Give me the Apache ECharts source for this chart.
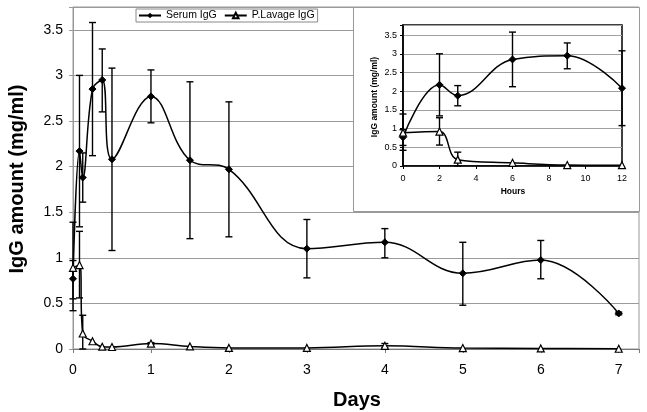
<!DOCTYPE html>
<html>
<head>
<meta charset="utf-8">
<script src="https://cdn.jsdelivr.net/npm/echarts@6/dist/echarts.min.js"></script>
<style>
html,body{margin:0;padding:0;background:#fff;}
#c{width:647px;height:412px;}
</style>
</head>
<body>
<div id="c"></div>
<script>
// ---- data ----
const days = [0, 0.0833, 0.125, 0.25, 0.375, 0.5, 1, 1.5, 2, 3, 4, 5, 6, 7];
const hours = [0, 2, 3, 6, 9, 12];
const serum = [0.77, 2.17, 1.88, 2.85, 2.95, 2.08, 2.77, 2.07, 1.97, 1.10, 1.17, 0.83, 0.975, 0.39];
const serumLow = [0.55, 1.34, 1.61, 2.12, 2.60, 1.08, 2.48, 1.21, 1.23, 0.78, 1.00, 0.48, 0.77, 0.375];
const serumHigh = [0.97, 3.00, 2.15, 3.58, 3.29, 3.08, 3.06, 2.93, 2.71, 1.42, 1.32, 1.17, 1.19, 0.405];
const lavage = [0.89, 0.92, 0.17, 0.085, 0.025, 0.022, 0.06, 0.028, 0.012, 0.012, 0.035, 0.01, 0.006, 0.003];
const lavageLow = [0.42, 0.56, 0.0, null, null, null, 0.05, null, null, null, 0.015, null, null, null];
const lavageHigh = [1.39, 1.29, 0.37, null, null, null, 0.07, null, null, null, 0.06, null, null, null];
const inset = 6; // first six points are the hourly samples
const mainYTicks = ['0', '0.5', '1', '1.5', '2', '2.5', '3', '3.5'];

function pairs(xs, ys) { return xs.map((x, i) => [x, ys[i]]); }
function errs(xs, lo, hi) {
  const out = [];
  xs.forEach((x, i) => { if (lo[i] != null && hi[i] != null) out.push([x, lo[i], hi[i]]); });
  return out;
}
function errRender(cap) {
  return function (params, api) {
    const x = api.value(0);
    const p0 = api.coord([x, api.value(1)]);
    const p1 = api.coord([x, api.value(2)]);
    const st = { stroke: '#000', lineWidth: 1.4 };
    return {
      type: 'group',
      children: [
        { type: 'line', shape: { x1: p0[0], y1: p0[1], x2: p1[0], y2: p1[1] }, style: st },
        { type: 'line', shape: { x1: p0[0] - cap, y1: p0[1], x2: p0[0] + cap, y2: p0[1] }, style: st },
        { type: 'line', shape: { x1: p1[0] - cap, y1: p1[1], x2: p1[0] + cap, y2: p1[1] }, style: st }
      ]
    };
  };
}
function halfFmt(v) {
  const s = String(Math.round(v * 100) / 100);
  return mainYTicks.indexOf(s) >= 0 ? s : '';
}

const F = '"Liberation Sans", Arial, sans-serif';
const SM = 0.4;
const chart = echarts.init(document.getElementById('c'), null, { renderer: 'canvas' });
chart.setOption({
  animation: false,
  backgroundColor: '#fff',
  legend: {
    left: 136, top: 9,
    padding: [1, 3, 1, 2],
    itemGap: 7, itemWidth: 22, itemHeight: 7,
    backgroundColor: '#fff', borderColor: '#888', borderWidth: 1,
    textStyle: { fontFamily: F, fontSize: 10.5, color: '#000' },
    data: ['Serum IgG', 'P.Lavage IgG']
  },
  grid: [
    { left: 73, top: 7, width: 566, height: 342, show: true, borderColor: '#999', borderWidth: 1, backgroundColor: 'transparent' },
    { left: 403, top: 25, width: 219, height: 141, show: true, borderColor: '#000', borderWidth: 1.5, backgroundColor: '#fff', z: 6 }
  ],
  xAxis: [
    {
      gridIndex: 0, type: 'value', min: 0, max: 7.26, interval: 1,
      axisLine: { lineStyle: { color: '#777', width: 1 } },
      axisTick: { show: true, length: 4, lineStyle: { color: '#777' } },
      splitLine: { show: false },
      axisLabel: { margin: 14, fontFamily: F, fontSize: 14, color: '#000',
        formatter: v => (Math.abs(v - Math.round(v)) < 1e-9 ? String(Math.round(v)) : '') }
    },
    {
      gridIndex: 1, type: 'value', min: 0, max: 12, interval: 2, z: 7,
      axisLine: { lineStyle: { color: '#000', width: 1.5 } },
      axisTick: { show: true, length: 3, lineStyle: { color: '#000' } },
      splitLine: { show: false },
      axisLabel: { margin: 8, fontFamily: F, fontSize: 9, color: '#000' }
    }
  ],
  yAxis: [
    {
      gridIndex: 0, type: 'value', min: 0, max: 3.75, interval: 0.5,
      axisLine: { show: true, lineStyle: { color: '#999', width: 1 } },
      axisTick: { show: true, length: 4, lineStyle: { color: '#999' } },
      splitLine: { show: true, lineStyle: { color: '#9a9a9a', width: 1 } },
      axisLabel: { margin: 10, fontFamily: F, fontSize: 14, color: '#000', formatter: halfFmt }
    },
    {
      gridIndex: 1, type: 'value', min: 0, max: 3.77, interval: 0.5, z: 7,
      axisLine: { show: true, lineStyle: { color: '#000', width: 1.5 } },
      axisTick: { show: true, length: 3, lineStyle: { color: '#000' } },
      splitLine: { show: true, lineStyle: { color: '#a0a0a0', width: 1 } },
      axisLabel: { margin: 6, fontFamily: F, fontSize: 9, color: '#000', formatter: halfFmt }
    }
  ],
  graphic: [
    { type: 'rect', z: 5, shape: { x: 353.5, y: 7.5, width: 286, height: 204 },
      style: { fill: '#fff', stroke: '#999', lineWidth: 1 } },
    { type: 'text', z: 10, x: 17, y: 179, rotation: Math.PI / 2,
      style: { text: 'IgG amount (mg/ml)', fontFamily: F, fontSize: 20, fontWeight: 'bold', fill: '#000', align: 'center', verticalAlign: 'middle' } },
    { type: 'text', z: 10, x: 357, y: 400,
      style: { text: 'Days', fontFamily: F, fontSize: 20, fontWeight: 'bold', fill: '#000', align: 'center', verticalAlign: 'middle' } },
    { type: 'text', z: 10, x: 375, y: 97, rotation: Math.PI / 2,
      style: { text: 'IgG amount (mg/ml)', fontFamily: F, fontSize: 8.5, fontWeight: 'bold', fill: '#000', align: 'center', verticalAlign: 'middle' } },
    { type: 'text', z: 10, x: 513, y: 192,
      style: { text: 'Hours', fontFamily: F, fontSize: 8.5, fontWeight: 'bold', fill: '#000', align: 'center', verticalAlign: 'middle' } }
  ],
  series: [
    { name: 'Serum IgG', type: 'line', xAxisIndex: 0, yAxisIndex: 0, z: 3,
      data: pairs(days, serum), smooth: SM, symbol: 'diamond', symbolSize: 7,
      lineStyle: { color: '#000', width: 1.5 }, itemStyle: { color: '#000', borderColor: '#000' } },
    { name: 'P.Lavage IgG', type: 'line', xAxisIndex: 0, yAxisIndex: 0, z: 3,
      data: pairs(days, lavage), smooth: SM, symbol: 'triangle', symbolSize: 7,
      lineStyle: { color: '#000', width: 1.5 }, itemStyle: { color: '#fff', borderColor: '#000', borderWidth: 1.2 } },
    { type: 'custom', xAxisIndex: 0, yAxisIndex: 0, z: 2, renderItem: errRender(3.5),
      data: errs(days, serumLow, serumHigh), encode: { x: 0, y: [1, 2] } },
    { type: 'custom', xAxisIndex: 0, yAxisIndex: 0, z: 2, renderItem: errRender(3.5),
      data: errs(days, lavageLow, lavageHigh), encode: { x: 0, y: [1, 2] } },

    { type: 'line', xAxisIndex: 1, yAxisIndex: 1, z: 9,
      data: pairs(hours, serum.slice(0, inset)), smooth: SM, symbol: 'diamond', symbolSize: 7,
      lineStyle: { color: '#000', width: 1.5 }, itemStyle: { color: '#000', borderColor: '#000' } },
    { type: 'line', xAxisIndex: 1, yAxisIndex: 1, z: 9,
      data: pairs(hours, lavage.slice(0, inset)), smooth: SM, symbol: 'triangle', symbolSize: 7,
      lineStyle: { color: '#000', width: 1.5 }, itemStyle: { color: '#fff', borderColor: '#000', borderWidth: 1.2 } },
    { type: 'custom', xAxisIndex: 1, yAxisIndex: 1, z: 8, renderItem: errRender(3.5),
      data: errs(hours, serumLow.slice(0, inset), serumHigh.slice(0, inset)), encode: { x: 0, y: [1, 2] } },
    { type: 'custom', xAxisIndex: 1, yAxisIndex: 1, z: 8, renderItem: errRender(3.5),
      data: errs(hours, lavageLow.slice(0, inset), lavageHigh.slice(0, inset)), encode: { x: 0, y: [1, 2] } }
  ]
});
</script>
</body>
</html>
